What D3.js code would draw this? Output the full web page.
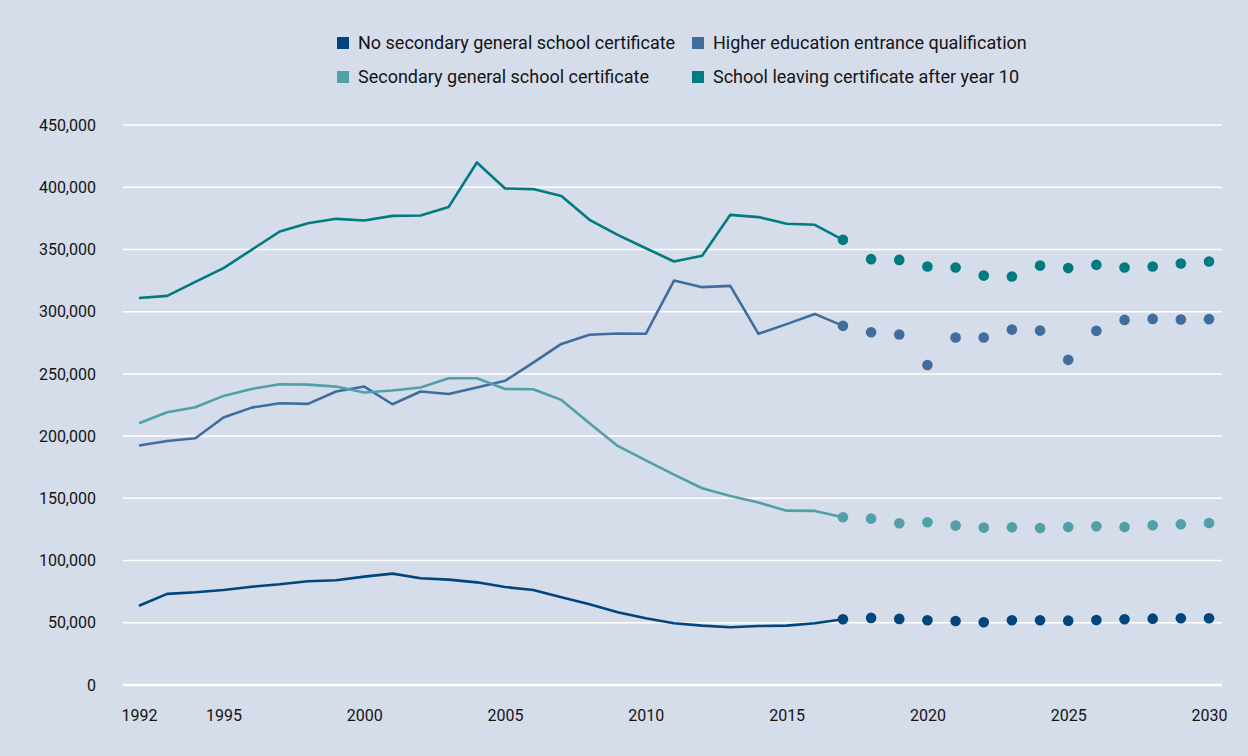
<!DOCTYPE html>
<html>
<head>
<meta charset="utf-8">
<script src="https://cdn.jsdelivr.net/npm/d3@7"></script>
<style>
  body { margin: 0; background: #d5dcea; }
  svg { display: block; }
</style>
</head>
<body>
<div id="chart"></div>
<script>
// years with reported figures and with projections
var pastYears = [1992, 1993, 1994, 1995, 1996, 1997, 1998, 1999, 2000, 2001, 2002, 2003, 2004,
    2005, 2006, 2007, 2008, 2009, 2010, 2011, 2012, 2013, 2014, 2015, 2016, 2017];
var projYears = [2017, 2018, 2019, 2020, 2021, 2022, 2023, 2024, 2025, 2026, 2027, 2028, 2029, 2030];

var seriesNames = [
    "No secondary general school certificate",
    "Higher education entrance qualification",
    "Secondary general school certificate",
    "School leaving certificate after year 10"
];
var seriesColors = ["#00457c", "#3f6e9e", "#51a0a8", "#007b80"];

// reported values
var noCertPast = [63700, 73200, 74500, 76400, 79000, 80900, 83400, 84200, 87100, 89500, 85800, 84700, 82500,
    78700, 76400, 70500, 64900, 58400, 53600, 49600, 47700, 46400, 47400, 47700, 49600, 52800];
var higherPast = [192400, 196100, 198300, 214900, 222900, 226400, 225900, 235800, 239800, 225600, 235800, 233900, 239000,
    244400, 259100, 274100, 281400, 282400, 282200, 325000, 319700, 320700, 282200, 290000, 298200, 288600];
var secondaryPast = [210400, 219200, 223200, 232300, 237900, 241700, 241400, 239800, 235000, 236600, 239000, 246500, 246500,
    237900, 237600, 229100, 210400, 192100, 180500, 169000, 158100, 151900, 146600, 140100, 139900, 134800];
var year10Past = [311000, 312700, 324000, 335000, 349700, 364400, 371000, 374600, 373200, 377000, 377300, 384200, 419900,
    399000, 398500, 393000, 373800, 361700, 351000, 340300, 344900, 377800, 376000, 370600, 369800, 357700];

// projections
var noCertProj = [52800, 53900, 53100, 52000, 51400, 50400, 52000, 52000, 51700, 52200, 52800, 53300, 53600, 53600];
var higherProj = [288600, 283500, 281600, 257200, 279200, 279200, 285600, 284800, 261300, 284600, 293400, 294200, 293700, 294000];
var secondaryProj = [134800, 133700, 130000, 130800, 128100, 126500, 126800, 126200, 127000, 127500, 127000, 128400, 129200, 130200];
var year10Proj = [357700, 342200, 341600, 336300, 335500, 329000, 328200, 337000, 335000, 337600, 335500, 336300, 338700, 340300];

var yTicks = [0, 50000, 100000, 150000, 200000, 250000, 300000, 350000, 400000, 450000];
var xTicks = [1992, 1995, 2000, 2005, 2010, 2015, 2020, 2025, 2030];

var width = 1248, height = 756;
var pastSets = [noCertPast, higherPast, secondaryPast, year10Past];
var projSets = [noCertProj, higherProj, secondaryProj, year10Proj];

var svg = d3.select("#chart").append("svg")
    .attr("width", width)
    .attr("height", height)
    .style("font-family", "Roboto, sans-serif");

svg.append("rect")
    .attr("width", width)
    .attr("height", height)
    .attr("fill", "#d5dcea");

var x = d3.scaleLinear().domain([1992, 2030]).range([139, 1209]);
var y = d3.scaleLinear().domain([0, 450000]).range([685, 125]);

// gridlines
svg.append("g")
    .selectAll("line")
    .data(yTicks)
    .enter()
    .append("line")
    .attr("x1", 123)
    .attr("x2", 1222)
    .attr("y1", function(d) { return y(d); })
    .attr("y2", function(d) { return y(d); })
    .attr("stroke", "#ffffff")
    .attr("stroke-width", function(d) { return d === 0 ? 2.5 : 1.5; });

// y axis labels
var yAxis = d3.axisLeft(y)
    .tickValues(yTicks)
    .tickSize(0)
    .tickPadding(0)
    .tickFormat(d3.format(","));
svg.append("g")
    .attr("transform", "translate(96,0)")
    .call(yAxis)
    .call(function(g) { g.select(".domain").remove(); })
    .selectAll("text")
    .attr("font-size", 16)
    .attr("font-family", "Roboto, sans-serif")
    .attr("fill", "#141414");

// x axis labels
var xAxis = d3.axisBottom(x)
    .tickValues(xTicks)
    .tickSize(0)
    .tickPadding(0)
    .tickFormat(d3.format("d"));
svg.append("g")
    .attr("transform", "translate(0,710)")
    .call(xAxis)
    .call(function(g) { g.select(".domain").remove(); })
    .selectAll("text")
    .attr("font-size", 16)
    .attr("font-family", "Roboto, sans-serif")
    .attr("fill", "#141414");

var line = d3.line()
    .x(function(d) { return x(d.year); })
    .y(function(d) { return y(d.value); });

pastSets.forEach(function(vals, i) {
    var pts = pastYears.map(function(yr, k) { return {year: yr, value: vals[k]}; });
    svg.append("path")
        .datum(pts)
        .attr("d", line)
        .attr("fill", "none")
        .attr("stroke", seriesColors[i])
        .attr("stroke-width", 2.6)
        .attr("stroke-linejoin", "round");
});

projSets.forEach(function(vals, i) {
    var pts = projYears.map(function(yr, k) { return {year: yr, value: vals[k]}; });
    svg.append("g")
        .selectAll("circle")
        .data(pts)
        .enter()
        .append("circle")
        .attr("cx", function(d) { return x(d.year); })
        .attr("cy", function(d) { return y(d.value); })
        .attr("r", 5.3)
        .attr("fill", seriesColors[i]);
});

// legend, two columns
var legendPos = [[337, 43], [692, 43], [337, 77], [692, 77]];
var legend = svg.append("g")
    .selectAll("g")
    .data(seriesNames)
    .enter()
    .append("g")
    .attr("transform", function(d, i) { return "translate(" + legendPos[i][0] + "," + legendPos[i][1] + ")"; });
legend.append("rect")
    .attr("x", 0)
    .attr("y", -6)
    .attr("width", 12)
    .attr("height", 12)
    .attr("fill", function(d, i) { return seriesColors[i]; });
legend.append("text")
    .attr("x", 21)
    .attr("dy", "0.35em")
    .attr("font-size", 18)
    .attr("fill", "#141414")
    .text(function(d) { return d; });
</script>
</body>
</html>
